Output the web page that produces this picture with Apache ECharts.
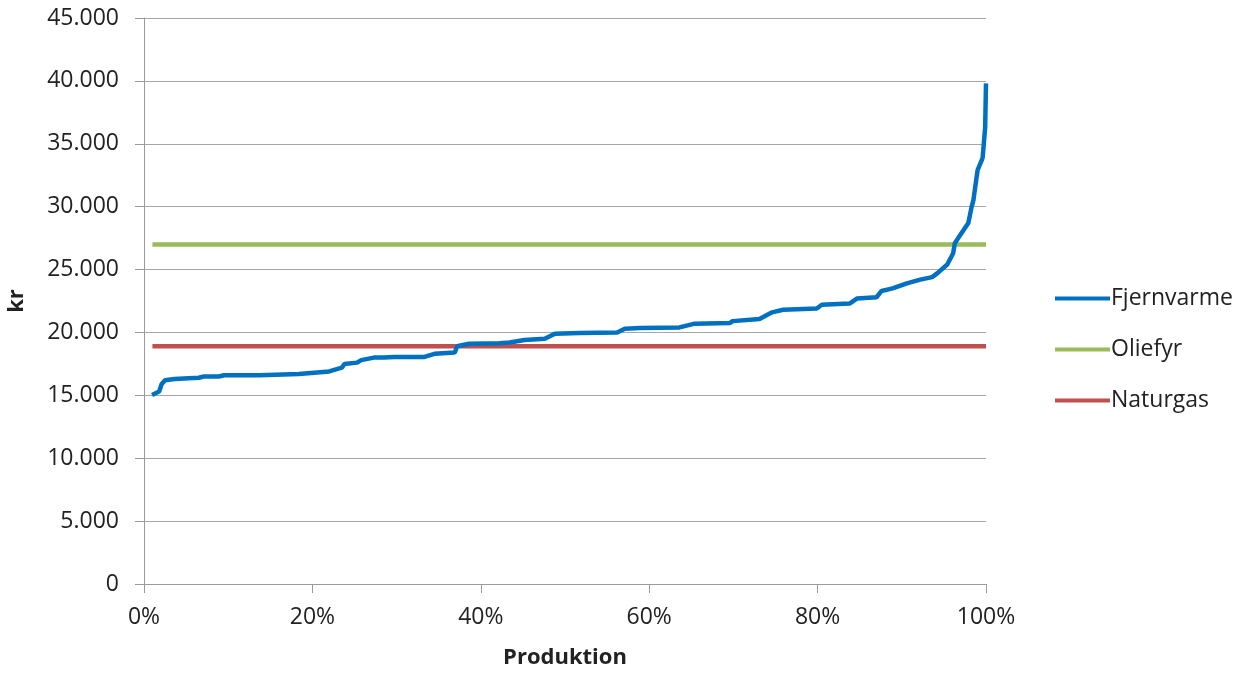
<!DOCTYPE html>
<html><head><meta charset="utf-8">
<script src="https://cdn.jsdelivr.net/npm/echarts@6/dist/echarts.min.js"></script>
<style>html,body{margin:0;padding:0;background:#fff}#c{width:1247px;height:673px}</style>
</head><body><div id="c"></div>
<script>
const xTicks = [0, 20, 40, 60, 80, 100];
const fjernX = [0.95,1.8,2.1,2.5,3.6,6.5,7.1,8.9,9.5,13.7,18.4,20.2,22,23.5,23.8,25.3,25.8,27.3,28.5,29.7,33.3,34.5,36.9,37.2,38.6,42.2,43.4,45.2,47.6,48.8,51.7,56.2,57.1,58.9,63.6,65.4,69.6,69.9,73.1,74.6,75.9,79.9,80.5,83.8,84.7,87,87.6,88.9,90.6,92.2,93.6,94.2,95.4,96.1,96.3,96.9,97.7,97.9,98.3,98.5,99.0,99.5,99.6,99.9,100];
const fjernY = [15020,15300,15900,16200,16300,16400,16500,16500,16600,16600,16700,16800,16900,17200,17500,17600,17800,18000,18000,18050,18050,18300,18400,18900,19100,19150,19200,19400,19500,19900,19950,20000,20300,20350,20400,20700,20750,20900,21070,21600,21800,21900,22200,22300,22700,22800,23300,23500,23900,24200,24400,24700,25400,26300,27100,27700,28500,28700,30000,30500,32900,33700,33900,36300,39800];
const olieX = [1, 100];
const olieY = [27000, 27000];
const natX = [1, 100];
const natY = [18900, 18900];
const zip = (a, b) => a.map((v, i) => [v, b[i]]);
const font = 'Open Sans';
const chart = echarts.init(document.getElementById('c'));
chart.setOption({
  animation: false,
  textStyle: {fontFamily: font},
  grid: {left: 144, right: 261, top: 18, bottom: 89, containLabel: false, outerBoundsMode: 'none'},
  legend: {
    orient: 'vertical', left: 1050, top: 282, itemGap: 28,
    itemWidth: 55, itemHeight: 4,
    icon: 'rect',
    textStyle: {fontSize: 23, color: '#222', fontFamily: font, padding: [0,0,0,-4]},
    data: ['Fjernvarme', 'Oliefyr', 'Naturgas']
  },
  xAxis: {
    type: 'value', min: 0, max: 100, interval: 20,
    name: 'Produktion', nameLocation: 'middle', nameGap: 63,
    nameTextStyle: {fontSize: 22, fontWeight: 'bold', color: '#222', fontFamily: font},
    axisLine: {show: true, lineStyle: {color: '#9a9a9a', width: 1}},
    axisTick: {show: true, length: 9, lineStyle: {color: '#9a9a9a'}},
    axisLabel: {fontSize: 23, color: '#222', margin: 22, formatter: v => v + '%'},
    splitLine: {show: false}
  },
  yAxis: {
    type: 'value', min: 0, max: 45000, interval: 5000,
    name: 'kr', nameLocation: 'middle', nameGap: 116, nameRotate: 90,
    nameTextStyle: {fontSize: 22, fontWeight: 'bold', color: '#222', fontFamily: font},
    axisLine: {show: true, lineStyle: {color: '#9a9a9a', width: 1}},
    axisTick: {show: true, length: 9, inside: false, lineStyle: {color: '#9a9a9a'}},
    axisLabel: {fontSize: 23, color: '#222', margin: 25,
      formatter: v => v === 0 ? '0' : (v/1000).toFixed(0) + '.000'},
    splitLine: {show: true, lineStyle: {color: '#a6a6a6', width: 1}}
  },
  series: [
    {name: 'Fjernvarme', type: 'line', data: zip(fjernX, fjernY), showSymbol: false,
     lineStyle: {color: '#0070c0', width: 4.5}, itemStyle: {color: '#0070c0'}, z: 3},
    {name: 'Oliefyr', type: 'line', data: zip(olieX, olieY), showSymbol: false,
     lineStyle: {color: '#9bbb59', width: 4.5}, itemStyle: {color: '#9bbb59'}, z: 2},
    {name: 'Naturgas', type: 'line', data: zip(natX, natY), showSymbol: false,
     lineStyle: {color: '#c0504d', width: 4.5}, itemStyle: {color: '#c0504d'}, z: 2}
  ]
});
</script></body></html>
